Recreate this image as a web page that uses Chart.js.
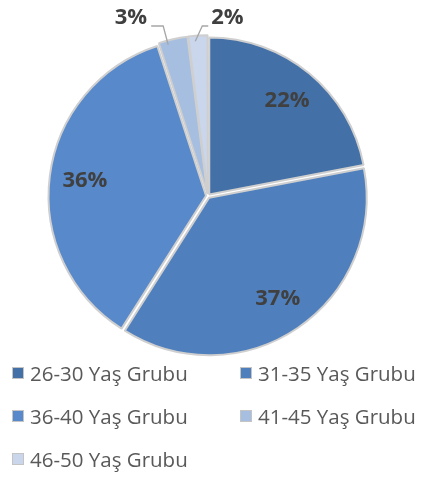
<!DOCTYPE html>
<html lang="tr">
<head>
    <meta charset="UTF-8">
    <title>Yaş Grubu Dağılımı</title>
    <script src="https://cdn.jsdelivr.net/npm/chart.js"></script>
    <style>
        body {
            margin: 0;
            padding: 0;
            background: #ffffff;
            font-family: "Open Sans", sans-serif;
        }
        .wrap {
            position: relative;
            width: 424px;
            height: 477px;
        }
        #legend {
            position: absolute;
            left: 12px;
            top: 360px;
            width: 412px;
            display: grid;
            grid-template-columns: 228px 184px;
            row-gap: 18px;
        }
        .item {
            display: flex;
            align-items: center;
            font-size: 20.5px;
            color: #595959;
            height: 25px;
            white-space: nowrap;
        }
        .box {
            width: 10px;
            height: 10px;
            margin-right: 6px;
            border: 1px solid #c4c4c4;
        }
    </style>
</head>
<body>
<div class="wrap">
    <canvas id="pie" width="424" height="477"></canvas>
    <div id="legend"></div>
</div>
<script>
    const categories = ['26-30 Yaş Grubu', '31-35 Yaş Grubu', '36-40 Yaş Grubu', '41-45 Yaş Grubu', '46-50 Yaş Grubu'];
    const percentages = [22, 37, 36, 3, 2];
    const sliceColors = ['#4370a6', '#4f80bd', '#5789cb', '#a6bee0', '#c9d6ec'];

    // where each label goes: inside the slice, or outside with a leader line
    const labelModes = ['in', 'in', 'in', 'left', 'right'];

    const labelPlugin = {
        id: 'sliceLabels',
        afterDatasetsDraw(chart) {
            const ctx = chart.ctx;
            const meta = chart.getDatasetMeta(0);
            ctx.save();
            ctx.font = 'bold 22px "Open Sans", sans-serif';
            ctx.fillStyle = '#404040';
            ctx.textBaseline = 'middle';
            meta.data.forEach((arc, i) => {
                const p = arc.getProps(['x', 'y', 'startAngle', 'endAngle', 'outerRadius'], true);
                const mid = (p.startAngle + p.endAngle) / 2;
                const text = percentages[i] + '%';
                if (labelModes[i] === 'in') {
                    const r = p.outerRadius * 0.79;
                    ctx.textAlign = 'center';
                    ctx.fillText(text, p.x + Math.cos(mid) * r, p.y + Math.sin(mid) * r);
                } else {
                    const left = labelModes[i] === 'left';
                    const ax = p.x + Math.cos(mid) * (p.outerRadius - 2) + (left ? -6 : -3);
                    const ay = p.y + Math.sin(mid) * (p.outerRadius - 2);
                    const ey = 26;
                    const ex = ax + (left ? -5 : 7);
                    const hx = ex + (left ? -12 : 6);
                    ctx.strokeStyle = '#a6a6a6';
                    ctx.lineWidth = 1.3;
                    ctx.beginPath();
                    ctx.moveTo(ax, ay);
                    ctx.lineTo(ex, ey);
                    ctx.lineTo(hx, ey);
                    ctx.stroke();
                    ctx.textAlign = left ? 'right' : 'left';
                    ctx.fillText(text, hx + (left ? -4 : 3), 18);
                }
            });
            ctx.restore();
        }
    };

    new Chart(document.getElementById('pie'), {
        type: 'pie',
        data: {
            labels: categories,
            datasets: [{
                data: percentages,
                backgroundColor: sliceColors,
                borderColor: '#cfcfcf',
                borderWidth: 2,
                offset: 8,
                radius: 157
            }]
        },
        options: {
            responsive: false,
            animation: false,
            layout: { padding: { left: 0, right: 8, top: 0, bottom: 85 } },
            plugins: {
                legend: { display: false },
                tooltip: { enabled: false }
            }
        },
        plugins: [labelPlugin]
    });

    const legend = document.getElementById('legend');
    categories.forEach((name, i) => {
        const item = document.createElement('div');
        item.className = 'item';
        const box = document.createElement('span');
        box.className = 'box';
        box.style.background = sliceColors[i];
        item.appendChild(box);
        item.appendChild(document.createTextNode(name));
        legend.appendChild(item);
    });
</script>
</body>
</html>
